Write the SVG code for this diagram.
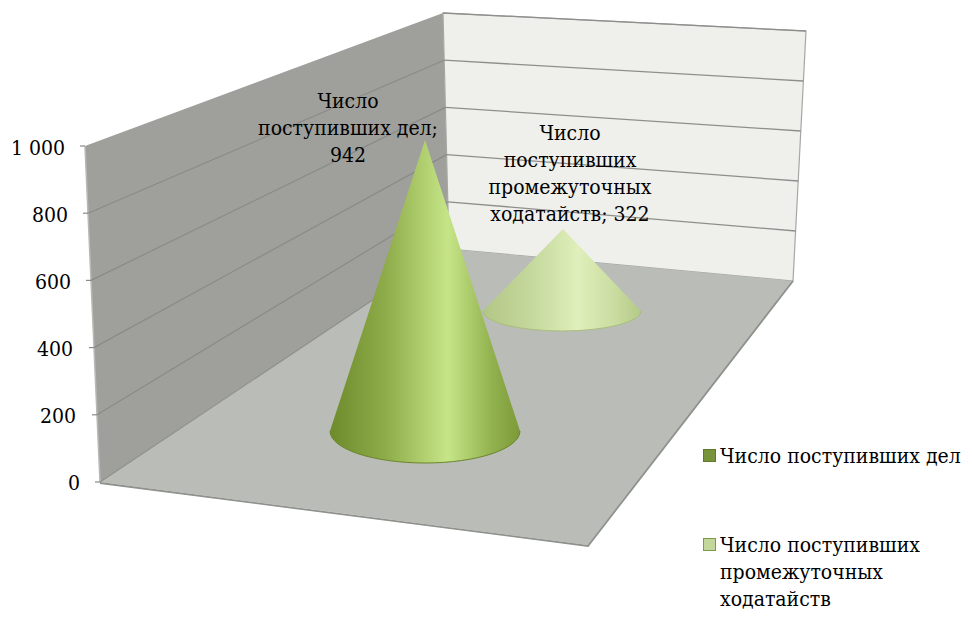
<svg xmlns="http://www.w3.org/2000/svg" width="972" height="625" viewBox="0 0 972 625">
<style>
.t{font-family:'DejaVu Serif Condensed','DejaVu Serif',serif;font-stretch:condensed;font-size:21px;fill:#000}
.ax{text-anchor:end}
.lbl{text-anchor:middle}
.grid{stroke:#8a8b87;stroke-width:1.2;fill:none}
.bgrid{stroke:#8e8e8c;stroke-width:1.3;fill:none}
.tick{stroke:#8a8a8a;stroke-width:1.2}
</style>
<defs>
<linearGradient id="gDark" x1="0" y1="0" x2="1" y2="0">
<stop offset="0" stop-color="#6e8b2c"/>
<stop offset="0.3" stop-color="#8fad4a"/>
<stop offset="0.62" stop-color="#c6e588"/>
<stop offset="0.85" stop-color="#92b24f"/>
<stop offset="1" stop-color="#7c9a38"/>
</linearGradient>
<linearGradient id="gLight" x1="0" y1="0" x2="1" y2="0">
<stop offset="0" stop-color="#b2c685"/>
<stop offset="0.35" stop-color="#c8dba0"/>
<stop offset="0.6" stop-color="#e0efbb"/>
<stop offset="0.85" stop-color="#c8db9e"/>
<stop offset="1" stop-color="#b4c887"/>
</linearGradient>
</defs>

<g id="walls">
<polygon points="85,146 443,13 449,249 100,482" fill="#9fa09c"/>
<line x1="85" y1="146" x2="100" y2="482" stroke="#b8b9b5" stroke-width="1.5"/>
<polygon points="443,13 806,31 793,281 449,249" fill="#efefeb" stroke="#a6a6a3" stroke-width="1.2"/>
<polygon points="449,249 793,281 588,545 100,482" fill="#babcb7"/>
<polyline points="100,483 588,546 793,281" fill="none" stroke="#8f918c" stroke-width="1.8"/>
<line x1="100" y1="482" x2="449" y2="249" stroke="#8e8f8b" stroke-width="1.2"/>
</g>

<g id="gridlines">
<line class="grid" x1="88" y1="213.2" x2="444.2" y2="60.2"/>
<line class="grid" x1="91" y1="280.4" x2="445.4" y2="107.4"/>
<line class="grid" x1="94" y1="347.6" x2="446.6" y2="154.6"/>
<line class="grid" x1="97" y1="414.8" x2="447.8" y2="201.8"/>
<line class="bgrid" x1="443" y1="13" x2="806" y2="31"/>
<line class="bgrid" x1="444.2" y1="60.2" x2="803.4" y2="81"/>
<line class="bgrid" x1="445.4" y1="107.4" x2="800.8" y2="131"/>
<line class="bgrid" x1="446.6" y1="154.6" x2="798.2" y2="181"/>
<line class="bgrid" x1="447.8" y1="201.8" x2="795.6" y2="231"/>
</g>

<g id="axis">
<line class="tick" x1="80" y1="146" x2="85" y2="146"/>
<line class="tick" x1="83" y1="213.2" x2="88" y2="213.2"/>
<line class="tick" x1="86" y1="280.4" x2="91" y2="280.4"/>
<line class="tick" x1="89" y1="347.6" x2="94" y2="347.6"/>
<line class="tick" x1="92" y1="414.8" x2="97" y2="414.8"/>
<line class="tick" x1="95" y1="482" x2="100" y2="482"/>
<text class="t ax" x="65" y="155">1 000</text>
<text class="t ax" x="68" y="222">800</text>
<text class="t ax" x="71" y="289">600</text>
<text class="t ax" x="73" y="356">400</text>
<text class="t ax" x="76" y="423">200</text>
<text class="t ax" x="80" y="490">0</text>
</g>

<g id="cone-intermediate">
<path d="M563,229 L483,311 A79,20 0 0 0 641,311 Z" fill="url(#gLight)"/>
<path d="M483,311 A79,20 0 0 0 641,311" fill="none" stroke="#a9bd7c" stroke-width="1"/>
</g>

<g id="cone-cases">
<path d="M425,140 L330,431 A95,32 0 0 0 520,431 Z" fill="url(#gDark)"/>
<path d="M330,431 A95,32 0 0 0 520,431" fill="none" stroke="#6a862a" stroke-width="1"/>
</g>

<g id="label-cases">
<text class="t lbl" x="348" y="108">Число</text>
<text class="t lbl" x="348" y="135">поступивших дел;</text>
<text class="t lbl" x="348" y="162">942</text>
</g>

<g id="label-intermediate">
<text class="t lbl" x="570" y="140">Число</text>
<text class="t lbl" x="570" y="167">поступивших</text>
<text class="t lbl" x="570" y="194">промежуточных</text>
<text class="t lbl" x="570" y="221">ходатайств; 322</text>
</g>

<g id="legend">
<rect x="703.5" y="449.5" width="12" height="12" fill="#77933c" stroke="#5e7a2b" stroke-width="1"/>
<text class="t" x="720" y="463">Число поступивших дел</text>
<rect x="703.5" y="538.5" width="12" height="12" fill="#c3d69b" stroke="#7c9a48" stroke-width="1"/>
<text class="t" x="720" y="552">Число поступивших</text>
<text class="t" x="720" y="579">промежуточных</text>
<text class="t" x="720" y="606">ходатайств</text>
</g>
</svg>
